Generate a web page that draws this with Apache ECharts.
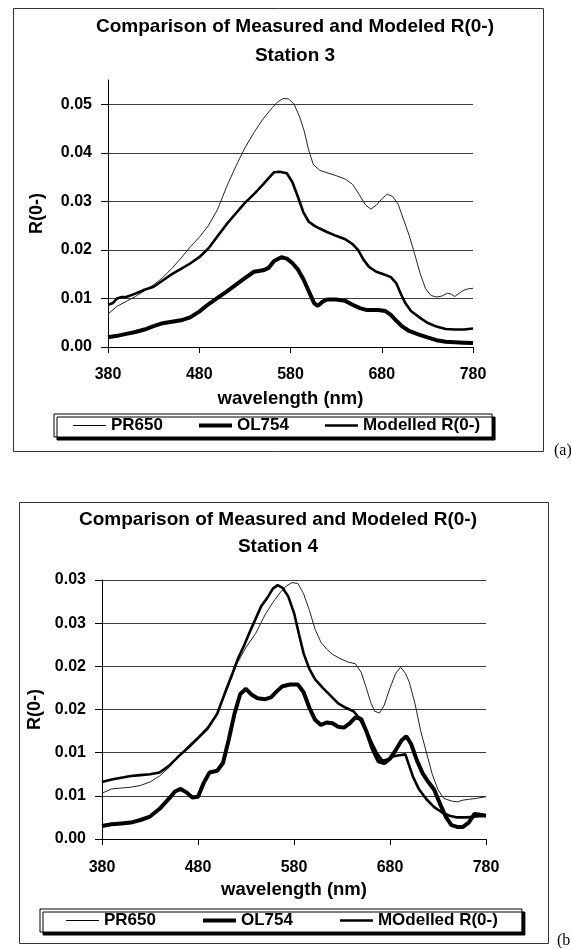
<!DOCTYPE html>
<html>
<head>
<meta charset="utf-8">
<script src="https://cdn.jsdelivr.net/npm/echarts@6.0.0/dist/echarts.min.js"></script>
<style>
  html, body { margin: 0; padding: 0; background: #fff; }
  #chart { width: 571px; height: 949px; }
</style>
</head>
<body>
<div id="chart"></div>
<script>
// ---- station 3 (a) ----
const aPrNm = [380, 390, 400, 410, 420, 430, 440, 450, 460, 470, 480, 490, 500, 510, 520, 530, 540, 550, 560, 566, 572, 578, 584, 590, 595, 600, 605, 612, 620, 630, 640, 648, 655, 662, 668, 674, 680, 686, 692, 698, 704, 710, 716, 722, 728, 734, 740, 746, 752, 756, 760, 765, 770, 775, 780];
const aPr = [0.0068, 0.0084, 0.0094, 0.0104, 0.0116, 0.0128, 0.0143, 0.0162, 0.0183, 0.0206, 0.0226, 0.0250, 0.0283, 0.0330, 0.0372, 0.0410, 0.0442, 0.0470, 0.0493, 0.0505, 0.0512, 0.0511, 0.0500, 0.0474, 0.0445, 0.0405, 0.0376, 0.0364, 0.0359, 0.0353, 0.0346, 0.0335, 0.0315, 0.0293, 0.0284, 0.0292, 0.0305, 0.0315, 0.0310, 0.0294, 0.0262, 0.0230, 0.0192, 0.0152, 0.0120, 0.0106, 0.0103, 0.0105, 0.0111, 0.0109, 0.0104, 0.0111, 0.0117, 0.0120, 0.0121];

const aModNm = [380, 385, 390, 395, 400, 410, 420, 430, 440, 450, 460, 470, 480, 490, 500, 510, 520, 530, 540, 550, 556, 562, 568, 576, 582, 588, 594, 600, 606, 612, 620, 630, 640, 648, 654, 660, 666, 674, 682, 690, 696, 702, 706, 712, 722, 730, 740, 750, 760, 770, 780];
const aMod = [0.0087, 0.0090, 0.0100, 0.0103, 0.0103, 0.0110, 0.0118, 0.0124, 0.0137, 0.0150, 0.0161, 0.0172, 0.0185, 0.0203, 0.0228, 0.0253, 0.0275, 0.0297, 0.0315, 0.0335, 0.0348, 0.0360, 0.0361, 0.0358, 0.0340, 0.0310, 0.0278, 0.0258, 0.0250, 0.0244, 0.0237, 0.0229, 0.0222, 0.0212, 0.0200, 0.0180, 0.0165, 0.0155, 0.0150, 0.0144, 0.0131, 0.0105, 0.0090, 0.0074, 0.0060, 0.0050, 0.0042, 0.0037, 0.0036, 0.0036, 0.0038];

const aOlNm = [380, 390, 400, 410, 420, 430, 440, 450, 460, 470, 480, 490, 500, 510, 520, 530, 540, 550, 556, 562, 570, 576, 582, 588, 594, 600, 606, 610, 615, 620, 630, 640, 648, 656, 664, 676, 684, 690, 696, 702, 710, 720, 730, 740, 750, 760, 770, 780];
const aOl = [0.0020, 0.0023, 0.0027, 0.0031, 0.0036, 0.0043, 0.0049, 0.0052, 0.0055, 0.0061, 0.0073, 0.0088, 0.0101, 0.0114, 0.0128, 0.0142, 0.0155, 0.0158, 0.0163, 0.0177, 0.0185, 0.0182, 0.0173, 0.0160, 0.0140, 0.0115, 0.0090, 0.0085, 0.0093, 0.0098, 0.0098, 0.0095, 0.0087, 0.0080, 0.0076, 0.0076, 0.0074, 0.0066, 0.0054, 0.0043, 0.0033, 0.0026, 0.0020, 0.0014, 0.0011, 0.0010, 0.0009, 0.0008];

const aTicks = [0, 0.01, 0.02, 0.03, 0.04, 0.05];

// ---- station 4 (b) ----
const bPrNm = [380, 390, 400, 410, 420, 430, 440, 450, 460, 470, 480, 490, 500, 510, 520, 530, 540, 550, 558, 566, 572, 578, 584, 590, 596, 602, 608, 614, 620, 628, 636, 644, 650, 655, 660, 664, 669, 674, 680, 686, 691, 696, 700, 706, 712, 718, 724, 730, 736, 744, 750, 756, 762, 770, 780];
const bPr = [0.0053, 0.0058, 0.0059, 0.0060, 0.0062, 0.0066, 0.0073, 0.0083, 0.0096, 0.0108, 0.0118, 0.0130, 0.0145, 0.0172, 0.0202, 0.0222, 0.0238, 0.0260, 0.0274, 0.0286, 0.0293, 0.0297, 0.0296, 0.0284, 0.0265, 0.0243, 0.0228, 0.0220, 0.0214, 0.0209, 0.0205, 0.0203, 0.0193, 0.0176, 0.0158, 0.0148, 0.0146, 0.0155, 0.0175, 0.0192, 0.0199, 0.0192, 0.0182, 0.0157, 0.0125, 0.0100, 0.0075, 0.0057, 0.0047, 0.0044, 0.0043, 0.0045, 0.0046, 0.0047, 0.0049];

const bModNm = [380, 390, 400, 410, 420, 430, 440, 450, 460, 470, 480, 490, 500, 505, 510, 516, 522, 528, 534, 540, 546, 552, 558, 563, 568, 574, 580, 585, 590, 596, 602, 610, 618, 626, 634, 642, 648, 654, 660, 666, 672, 678, 684, 690, 696, 700, 704, 710, 718, 726, 734, 742, 750, 760, 770, 780];
const bMod = [0.0066, 0.0069, 0.0071, 0.0073, 0.0074, 0.0075, 0.0077, 0.0085, 0.0096, 0.0106, 0.0117, 0.0128, 0.0145, 0.0160, 0.0175, 0.0192, 0.0210, 0.0224, 0.0240, 0.0255, 0.0270, 0.0279, 0.0290, 0.0294, 0.0291, 0.0281, 0.0262, 0.0238, 0.0215, 0.0197, 0.0185, 0.0175, 0.0166, 0.0157, 0.0152, 0.0148, 0.0140, 0.0128, 0.0114, 0.0100, 0.0091, 0.0092, 0.0096, 0.0097, 0.0098, 0.0085, 0.0072, 0.0058, 0.0046, 0.0037, 0.0031, 0.0027, 0.0025, 0.0025, 0.0026, 0.0027];

const bOlNm = [380, 390, 400, 410, 420, 430, 440, 450, 456, 462, 468, 474, 480, 486, 492, 500, 506, 512, 518, 524, 530, 536, 542, 550, 556, 562, 568, 576, 584, 590, 596, 602, 608, 614, 620, 626, 632, 638, 644, 650, 656, 662, 668, 674, 680, 686, 692, 697, 702, 708, 714, 720, 726, 732, 738, 744, 750, 756, 762, 768, 774, 780];
const bOl = [0.0015, 0.0017, 0.0018, 0.0019, 0.0022, 0.0026, 0.0035, 0.0047, 0.0055, 0.0058, 0.0054, 0.0048, 0.0049, 0.0065, 0.0077, 0.0079, 0.0088, 0.0115, 0.0145, 0.0168, 0.0174, 0.0167, 0.0163, 0.0162, 0.0164, 0.0171, 0.0177, 0.0179, 0.0179, 0.0170, 0.0152, 0.0138, 0.0132, 0.0135, 0.0134, 0.0130, 0.0129, 0.0134, 0.0141, 0.0139, 0.0123, 0.0104, 0.0090, 0.0088, 0.0093, 0.0103, 0.0114, 0.0119, 0.0110, 0.0091, 0.0076, 0.0066, 0.0057, 0.0041, 0.0026, 0.0016, 0.0014, 0.0014, 0.0019, 0.0029, 0.0028, 0.0027];

const bTicks = [0, 0.005, 0.01, 0.015, 0.02, 0.025, 0.03];
const bTickLabels = ['0.00', '0.01', '0.01', '0.02', '0.02', '0.03', '0.03'];

const FONT = "'Liberation Sans', Arial, sans-serif";

function pairs(xs, ys) {
  return xs.map((x, i) => [x, ys[i]]);
}

function xAxisOf(gridIndex, nameGap, margin) {
  return {
    type: 'value', gridIndex: gridIndex, min: 380, max: 780, interval: 100,
    name: 'wavelength (nm)', nameLocation: 'middle', nameGap: nameGap,
    nameTextStyle: {fontSize: 18.5, fontWeight: 'bold', fontFamily: FONT, color: '#000'},
    axisLine: {show: true, onZero: false, lineStyle: {color: '#000', width: 1}},
    axisTick: {show: true, inside: false, length: 6, lineStyle: {color: '#000'}},
    axisLabel: {margin: margin, fontSize: 16, fontWeight: 'bold', fontFamily: FONT, color: '#000'},
    splitLine: {show: false}
  };
}

function yAxisOf(gridIndex, max, ticks, fmt, nameGap) {
  return {
    type: 'value', gridIndex: gridIndex, min: 0, max: max,
    name: 'R(0-)', nameLocation: 'middle', nameGap: nameGap,
    nameTextStyle: {fontSize: 18, fontWeight: 'bold', fontFamily: FONT, color: '#000'},
    axisLine: {show: true, lineStyle: {color: '#000', width: 1}},
    axisTick: {show: true, inside: false, length: 7, customValues: ticks, lineStyle: {color: '#000'}},
    axisLabel: {margin: 16, customValues: ticks, formatter: fmt, fontSize: 16, fontWeight: 'bold', fontFamily: FONT, color: '#000'},
    splitLine: {show: true, lineStyle: {color: '#3a3a3a', width: 1}}
  };
}

function line(name, xi, data, width, color) {
  return {
    name: name, type: 'line', xAxisIndex: xi, yAxisIndex: xi,
    data: data, symbol: 'none', smooth: false, silent: true,
    lineStyle: {color: color, width: width}, itemStyle: {color: '#000'}
  };
}

const thinIcon = 'path://M0,0h33v1h-33z';
const midIcon = 'path://M0,0h33v2.6h-33z';
const thickIcon = 'path://M0,0h33v4h-33z';

function legendOf(left, top, names, gap, padding) {
  return {
    left: left, top: top, orient: 'horizontal', selectedMode: false,
    data: [
      {name: names[0], icon: thinIcon},
      {name: names[1], icon: thickIcon},
      {name: names[2], icon: midIcon}
    ],
    itemWidth: 33, itemHeight: 14, itemGap: gap, padding: padding,
    backgroundColor: '#fff', borderColor: '#000', borderWidth: 1,
    shadowColor: '#000', shadowBlur: 0, shadowOffsetX: 3, shadowOffsetY: 3,
    itemStyle: {color: '#000', borderWidth: 0},
    textStyle: {fontSize: 17, fontWeight: 'bold', fontFamily: FONT, color: '#000'}
  };
}

const chart = echarts.init(document.getElementById('chart'), null, {renderer: 'canvas'});

chart.setOption({
  backgroundColor: '#fff',
  animation: false,
  title: [
    {
      text: 'Comparison of Measured and Modeled R(0-)\nStation 3',
      left: 295, top: 12, textAlign: 'center', padding: 0,
      textStyle: {fontSize: 19, fontWeight: 'bold', fontFamily: FONT, color: '#000', lineHeight: 29}
    },
    {
      text: 'Comparison of Measured and Modeled R(0-)\nStation 4',
      left: 278, top: 506, textAlign: 'center', padding: 0,
      textStyle: {fontSize: 19, fontWeight: 'bold', fontFamily: FONT, color: '#000', lineHeight: 27}
    }
  ],
  legend: [
    legendOf(54, 414, ['PR650', 'OL754', 'Modelled R(0-)'], 36, [3, 12, 3, 19]),
    legendOf(40, 909, ['PR650', 'OL754', 'MOdelled R(0-)'], 47, [3, 24, 3, 26])
  ],
  grid: [
    {left: 108, top: 80, width: 365, height: 267, outerBoundsMode: 'none'},
    {left: 102, top: 580, width: 384, height: 259, outerBoundsMode: 'none'}
  ],
  xAxis: [xAxisOf(0, 42, 20), xAxisOf(1, 41, 21)],
  yAxis: [
    yAxisOf(0, 0.055, aTicks, v => v.toFixed(2), 62),
    yAxisOf(1, 0.03, bTicks, v => bTickLabels[Math.round(v / 0.005)], 58)
  ],
  series: [
    line('PR650', 0, pairs(aPrNm, aPr), 1, '#222'),
    line('OL754', 0, pairs(aOlNm, aOl), 4, '#000'),
    line('Modelled R(0-)', 0, pairs(aModNm, aMod), 2.6, '#000'),
    line('PR650', 1, pairs(bPrNm, bPr), 1, '#222'),
    line('OL754', 1, pairs(bOlNm, bOl), 4, '#000'),
    line('MOdelled R(0-)', 1, pairs(bModNm, bMod), 2.6, '#000')
  ],
  graphic: [
    {type: 'rect', shape: {x: 13.5, y: 8.5, width: 530, height: 443}, style: {fill: null, stroke: '#333', lineWidth: 1}, silent: true},
    {type: 'rect', shape: {x: 19.5, y: 502.5, width: 529, height: 441}, style: {fill: null, stroke: '#333', lineWidth: 1}, silent: true},
    {type: 'text', left: 554, top: 443, style: {text: '(a)', font: "16px 'Liberation Serif', 'Times New Roman', serif", fill: '#000'}, silent: true},
    {type: 'text', left: 557, top: 933, style: {text: '(b)', font: "16px 'Liberation Serif', 'Times New Roman', serif", fill: '#000'}, silent: true}
  ]
});
</script>
</body>
</html>
